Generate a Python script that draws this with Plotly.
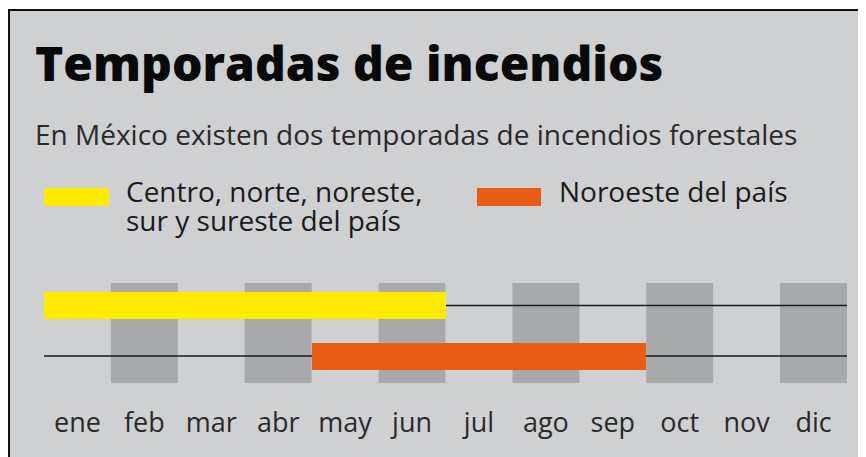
import plotly.graph_objects as go

# ---- data ----
months = ["ene", "feb", "mar", "abr", "may", "jun", "jul", "ago", "sep", "oct", "nov", "dic"]
series_names = ["Centro, norte, noreste,<br>sur y sureste del país", "Noroeste del país"]
season_start = [0, 4]      # month index where the season starts (ene=0)
season_end = [6, 9]        # month index where the season ends (exclusive)
row_pos = [77.5, 27]       # vertical row position of each series
colors = ["#ffea00", "#e85c13"]

title = "Temporadas de incendios"
subtitle = "En México existen dos temporadas de incendios forestales"

BG = "#cfd0d2"
COL = "#a8a9ab"

# page offset (browser body margin)
OFF = 8
W, H = 866 - OFF, 457 - OFF
L, R, T, B = 44 - OFF, 847 - OFF, 283 - OFF, 383 - OFF
def px(x):
    return (x - OFF - L) / (R - L)
def py(y):
    return (B - (y - OFF)) / (B - T)

fig = go.Figure()

for name, s, e, y, c in zip(series_names, season_start, season_end, row_pos, colors):
    fig.add_trace(go.Bar(
        y=[y], x=[e - s], base=[s], orientation="h", width=27,
        marker=dict(color=c, line=dict(width=0)), name=name, showlegend=False,
        hoverinfo="skip"))

shapes = []
# background panel with border
shapes.append(dict(type="rect", xref="paper", yref="paper",
                   x0=px(9), x1=px(880), y0=py(470), y1=py(10),
                   fillcolor=BG, line=dict(color="#111111", width=2), layer="below"))
# gray columns on alternate months
for i, m in enumerate(months):
    if i % 2 == 1:
        shapes.append(dict(type="rect", xref="x", yref="y", x0=i, x1=i + 1, y0=0, y1=100,
                           fillcolor=COL, line=dict(width=0), layer="below"))
# row lines
for y in row_pos:
    shapes.append(dict(type="line", xref="x", yref="y", x0=0, x1=len(months), y0=y, y1=y,
                       line=dict(color="#1a1a1a", width=1.6), layer="below"))
# legend swatches
sw = [(44, 109), (477, 541)]
for (a, b), c in zip(sw, colors):
    shapes.append(dict(type="rect", xref="paper", yref="paper",
                       x0=px(a), x1=px(b), y0=py(206), y1=py(188),
                       fillcolor=c, line=dict(width=0), layer="above"))

annotations = [
    dict(text=title, xref="paper", yref="paper", x=px(33), y=py(62), xanchor="left",
         yanchor="middle", showarrow=False,
         font=dict(family="Open Sans", size=48, color="#0a0a0a", weight=800)),
    dict(text=subtitle, xref="paper", yref="paper", x=px(33), y=py(134), xanchor="left",
         yanchor="middle", showarrow=False,
         font=dict(family="Open Sans", size=28, color="#2a2a2a")),
]
# legend labels: tight leading (line spacing from a smaller base size)
leg_x = [124, 557]
for name, lx in zip(series_names, leg_x):
    lines = name.split("<br>")
    txt = "<br>".join('<span style="font-size:28px">%s</span>' % ln for ln in lines)
    ymid = 191 + 29 * (len(lines) - 1) / 2
    annotations.append(dict(text=txt, xref="paper", yref="paper", x=px(lx),
                            y=py(ymid), xanchor="left", yanchor="middle",
                            showarrow=False, align="left",
                            font=dict(family="Open Sans", size=22, color="#1a1a1a")))

fig.update_layout(
    width=W, height=H,
    margin=dict(l=L, r=W - R, t=T, b=H - B, pad=0),
    paper_bgcolor="white", plot_bgcolor=BG,
    shapes=shapes, annotations=annotations,
    barmode="overlay", bargap=0,
    xaxis=dict(range=[0, len(months)], tickvals=[i + 0.5 for i in range(len(months))],
               ticktext=months, showgrid=False, zeroline=False, showline=False,
               ticks="", ticklabelstandoff=21,
               tickfont=dict(family="Open Sans", size=27, color="#2a2a2a"), fixedrange=True),
    yaxis=dict(range=[0, 100], visible=False, fixedrange=True),
    showlegend=False,
)

fig.write_html("out.html")
